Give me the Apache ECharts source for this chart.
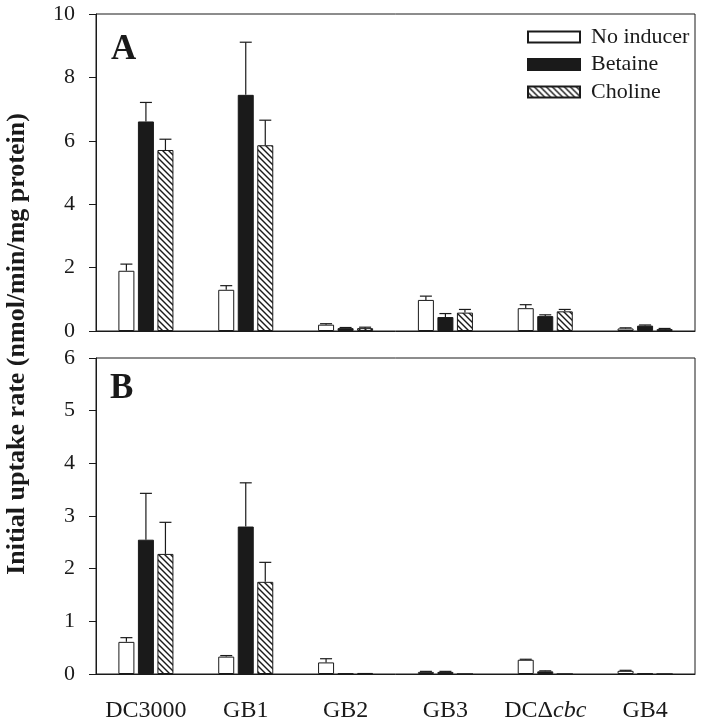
<!DOCTYPE html>
<html>
<head>
<meta charset="utf-8">
<script src="https://cdn.jsdelivr.net/npm/echarts@6/dist/echarts.min.js"></script>
<style>
  html, body { margin: 0; padding: 0; background: #fff; }
  #chart { width: 704px; height: 726px; }
</style>
</head>
<body>
<div id="chart"></div>
<script>
// strains on the x axis
var categories = ['DC3000', 'GB1', 'GB2', 'GB3', 'DCΔcbc', 'GB4'];
var seriesNames = ['No inducer', 'Betaine', 'Choline'];

// panel A (nmol/min/mg protein), bar height and error
var noInducerA = [1.90, 1.30, 0.20, 0.98, 0.72, 0.08];
var noInducerErrA = [0.21, 0.13, 0.03, 0.12, 0.11, 0.02];
var betaineA = [6.61, 7.45, 0.09, 0.44, 0.47, 0.17];
var betaineErrA = [0.60, 1.66, 0.02, 0.11, 0.04, 0.02];
var cholineA = [5.71, 5.86, 0.09, 0.58, 0.62, 0.06];
var cholineErrA = [0.34, 0.79, 0.03, 0.10, 0.06, 0.02];

// panel B
var noInducerB = [0.61, 0.33, 0.22, 0.04, 0.27, 0.06];
var noInducerErrB = [0.08, 0.02, 0.07, 0.01, 0.01, 0.01];
var betaineB = [2.55, 2.80, 0.01, 0.04, 0.05, 0.01];
var betaineErrB = [0.88, 0.83, 0, 0.01, 0.01, 0];
var cholineB = [2.28, 1.75, 0.02, 0, 0, 0];
var cholineErrB = [0.60, 0.37, 0, 0, 0, 0];

var ticksA = [0, 2, 4, 6, 8, 10];
var ticksB = [0, 1, 2, 3, 4, 5, 6];

var FONT = 'Liberation Serif';
var INK = '#1a1a1a';
var BAR_W = 16;
var BAR_GAP = 0.22;

function makeHatch() {
    var c = document.createElement('canvas');
    c.width = 6;
    c.height = 6;
    var ctx = c.getContext('2d');
    ctx.fillStyle = '#fff';
    ctx.fillRect(0, 0, 6, 6);
    ctx.strokeStyle = INK;
    ctx.lineWidth = 1.4;
    for (var k = -1; k <= 1; k++) {
        ctx.beginPath();
        ctx.moveTo(-1 + k * 6, -1);
        ctx.lineTo(7 + k * 6, 7);
        ctx.stroke();
    }
    return c;
}
var hatch = makeHatch();

var styles = [
    { color: '#fff', borderColor: INK, borderWidth: 1 },
    { color: INK, borderColor: INK, borderWidth: 1 },
    { color: { image: hatch, repeat: 'repeat' }, borderColor: INK, borderWidth: 1 }
];

function barSeries(idx, gridIdx, values) {
    return {
        name: seriesNames[idx],
        type: 'bar',
        xAxisIndex: gridIdx,
        yAxisIndex: gridIdx,
        data: values,
        barWidth: BAR_W,
        barGap: (BAR_GAP * 100) + '%',
        itemStyle: styles[idx],
        silent: true,
        animation: false
    };
}

function errorSeries(gridIdx, groups) {
    var data = [];
    groups.forEach(function (g, s) {
        g.values.forEach(function (v, i) {
            data.push([i, s, v, g.errs[i]]);
        });
    });
    return {
        type: 'custom',
        xAxisIndex: gridIdx,
        yAxisIndex: gridIdx,
        data: data,
        silent: true,
        animation: false,
        z: 3,
        renderItem: function (params, api) {
            var err = api.value(3);
            if (!err) return;
            var cat = api.value(0), s = api.value(1), v = api.value(2);
            var off = (s - 1) * BAR_W * (1 + BAR_GAP);
            var p0 = api.coord([cat, v]);
            var p1 = api.coord([cat, v + err]);
            var x = p0[0] + off;
            var st = { stroke: INK, lineWidth: 1.2 };
            return {
                type: 'group',
                children: [
                    { type: 'line', shape: { x1: x, y1: p0[1], x2: x, y2: p1[1] }, style: st },
                    { type: 'line', shape: { x1: x - 6, y1: p1[1], x2: x + 6, y2: p1[1] }, style: st }
                ]
            };
        }
    };
}

function xAxis(gridIdx, showLabels) {
    return {
        type: 'category',
        gridIndex: gridIdx,
        data: categories,
        boundaryGap: true,
        axisLine: { lineStyle: { color: INK, width: 1 } },
        axisTick: { alignWithLabel: true, interval: 0, length: 6, lineStyle: { color: INK } },
        axisLabel: {
            show: showLabels,
            interval: 0,
            margin: 25,
            fontFamily: FONT,
            fontSize: 24,
            color: INK,
            formatter: function (v) {
                if (v === 'DCΔcbc') return '{n|DCΔ}{i|cbc}';
                return '{n|' + v + '}';
            },
            rich: {
                n: { fontFamily: FONT, fontSize: 24, color: INK },
                i: { fontFamily: FONT, fontSize: 24, fontStyle: 'italic', color: INK }
            }
        },
        splitLine: { show: false }
    };
}

function yAxis(gridIdx, ticks) {
    return {
        type: 'value',
        gridIndex: gridIdx,
        min: ticks[0],
        max: ticks[ticks.length - 1],
        interval: ticks[1] - ticks[0],
        axisLine: { show: true, lineStyle: { color: INK, width: 1 } },
        axisTick: { show: true, length: 7, lineStyle: { color: INK } },
        axisLabel: { margin: 21, fontFamily: FONT, fontSize: 22, color: INK },
        splitLine: { show: false }
    };
}

var chart = echarts.init(document.getElementById('chart'), null, { renderer: 'canvas' });

var option = {
    backgroundColor: '#fff',
    animation: false,
    grid: [
        { left: 96, top: 14, width: 599, height: 317, show: true, borderColor: INK, borderWidth: 1 },
        { left: 96, top: 358, width: 599, height: 316, show: true, borderColor: INK, borderWidth: 1 }
    ],
    xAxis: [xAxis(0, false), xAxis(1, true)],
    yAxis: [yAxis(0, ticksA), yAxis(1, ticksB)],
    legend: {
        data: seriesNames,
        orient: 'vertical',
        left: 527,
        top: 26,
        padding: 0,
        icon: 'rect',
        itemWidth: 52,
        itemHeight: 11,
        itemGap: 5.5,
        selectedMode: false,
        textStyle: { fontFamily: FONT, fontSize: 22, color: INK, padding: [0, 0, 0, 6] }
    },
    graphic: [
        { type: 'text', left: 111, top: 32, style: { text: 'A', font: 'bold 35px "Liberation Serif"', fill: INK } },
        { type: 'text', left: 110, top: 371, style: { text: 'B', font: 'bold 35px "Liberation Serif"', fill: INK } },
        {
            type: 'text',
            x: 17,
            y: 344,
            rotation: Math.PI / 2,
            style: {
                text: 'Initial uptake rate (nmol/min/mg protein)',
                font: 'bold 26px "Liberation Serif"',
                fill: INK,
                align: 'center',
                verticalAlign: 'middle'
            }
        }
    ],
    series: [
        barSeries(0, 0, noInducerA),
        barSeries(1, 0, betaineA),
        barSeries(2, 0, cholineA),
        errorSeries(0, [
            { values: noInducerA, errs: noInducerErrA },
            { values: betaineA, errs: betaineErrA },
            { values: cholineA, errs: cholineErrA }
        ]),
        barSeries(0, 1, noInducerB),
        barSeries(1, 1, betaineB),
        barSeries(2, 1, cholineB),
        errorSeries(1, [
            { values: noInducerB, errs: noInducerErrB },
            { values: betaineB, errs: betaineErrB },
            { values: cholineB, errs: cholineErrB }
        ])
    ]
};

chart.setOption(option);
</script>
</body>
</html>
